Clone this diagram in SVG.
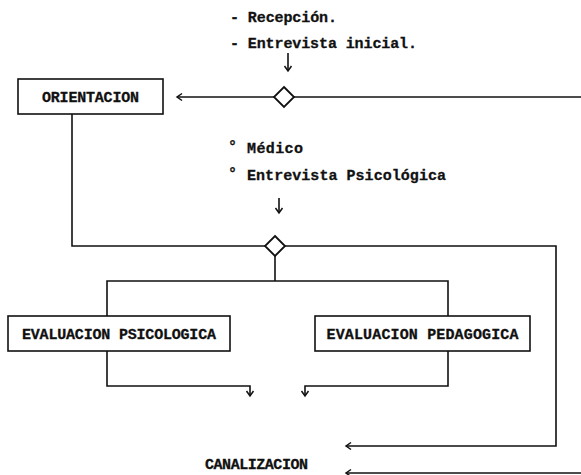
<svg xmlns="http://www.w3.org/2000/svg" width="581" height="475" viewBox="0 0 581 475">
<style>
.t{font-family:"Liberation Mono","DejaVu Sans Mono",monospace;font-weight:bold;font-size:15px;fill:#111;stroke:#111;stroke-width:0.3}
.b{font-family:"Liberation Mono","DejaVu Sans Mono",monospace;font-weight:bold;font-size:15px;fill:#111;stroke:#111;stroke-width:0.3}
.box{fill:#fff;stroke:#111;stroke-width:1.6}
.ln{fill:none;stroke:#111;stroke-width:1.6}
.dia{fill:#fff;stroke:#111;stroke-width:1.8}
</style>
<defs>
<marker id="ah" markerWidth="10" markerHeight="10" refX="8" refY="5" orient="auto" markerUnits="userSpaceOnUse">
<path d="M3,1.5 L8,5 L3,8.5" fill="none" stroke="#111" stroke-width="1.5"/>
</marker>
</defs>
<rect width="581" height="475" fill="#fff"/>
<g id="inicio">
<text class="t" x="230" y="22" textLength="107">- Recepción.</text>
<text class="t" x="230" y="48" textLength="187">- Entrevista inicial.</text>
</g>
<g id="estudios">
<text class="t" x="228" y="151">°</text>
<text class="t" x="247" y="153" textLength="56">Médico</text>
<text class="t" x="228" y="178">°</text>
<text class="t" x="247" y="180" textLength="199">Entrevista Psicológica</text>
</g>
<g id="orientacion">
<rect class="box" x="18" y="79" width="145" height="35"/>
<text class="b" x="90.5" y="102" text-anchor="middle" textLength="97">ORIENTACION</text>
</g>
<g id="decision1">
<path class="dia" d="M284,87 L294,97 L284,107 L274,97 Z"/>
</g>
<g id="decision2">
<path class="dia" d="M275,236 L285,246 L275,256 L265,246 Z"/>
</g>
<g id="eval-psicologica">
<rect class="box" x="8" y="316" width="222" height="35"/>
<text class="b" x="119" y="339" text-anchor="middle" textLength="194">EVALUACION PSICOLOGICA</text>
</g>
<g id="eval-pedagogica">
<rect class="box" x="315" y="316" width="215" height="35"/>
<text class="b" x="422.5" y="339" text-anchor="middle" textLength="192">EVALUACION PEDAGOGICA</text>
</g>
<g id="canalizacion">
<text class="b" x="205" y="469" textLength="103">CANALIZACION</text>
</g>
<g id="connectors">
<line class="ln" x1="288" y1="53" x2="288" y2="71" marker-end="url(#ah)"/>
<line class="ln" x1="274" y1="97" x2="177" y2="97" marker-end="url(#ah)"/>
<line class="ln" x1="294" y1="97" x2="581" y2="97"/>
<line class="ln" x1="279" y1="198" x2="279" y2="213" marker-end="url(#ah)"/>
<polyline class="ln" points="72,114 72,246 265,246"/>
<polyline class="ln" points="285,246 556,246 556,446 346,446" marker-end="url(#ah)"/>
<line class="ln" x1="275" y1="256" x2="275" y2="281"/>
<polyline class="ln" points="107,316 107,281 448,281 448,316"/>
<polyline class="ln" points="107,351 107,386 250,386 250,396" marker-end="url(#ah)"/>
<polyline class="ln" points="448,351 448,386 305,386 305,396" marker-end="url(#ah)"/>
<line class="ln" x1="581" y1="473" x2="346" y2="473" marker-end="url(#ah)"/>
</g>
</svg>
